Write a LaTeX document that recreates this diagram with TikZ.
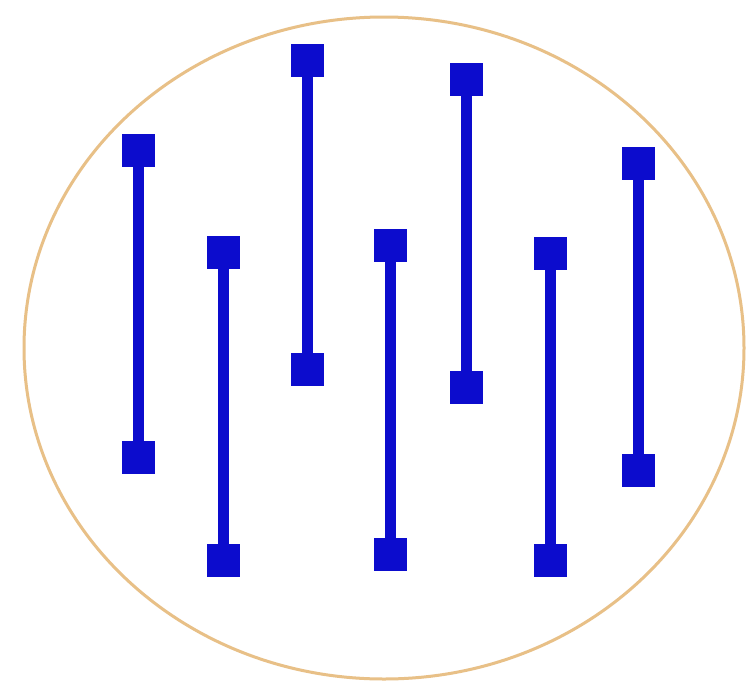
\documentclass[tikz,border=0pt]{standalone}
\begin{document}
\begin{tikzpicture}[x=1pt,y=-1pt,
  pin/.style={draw=none,fill=barblue,minimum size=33pt,inner sep=0pt,outer sep=0pt},
  bar/.style={draw=barblue,line width=11pt}]
\definecolor{barblue}{RGB}{12,12,205}
\definecolor{ringtan}{RGB}{232,192,135}
\useasboundingbox (0,0) rectangle (755,686);
\fill[white] (0,0) rectangle (755,686);
\draw[ringtan,line width=3pt] (384,348) ellipse [x radius=360pt, y radius=331pt];
\foreach \i/\x/\t/\b in {1/138/150/457, 2/223/252/560, 3/307/60/369, 4/390/245/554, 5/466/79/387, 6/550/253/560, 7/638/163/470}{
  \node[pin] (t\i) at (\x,\t) {};
  \node[pin] (b\i) at (\x,\b) {};
  \draw[bar] (t\i.center) -- (b\i.center);
}
\end{tikzpicture}
\end{document}
